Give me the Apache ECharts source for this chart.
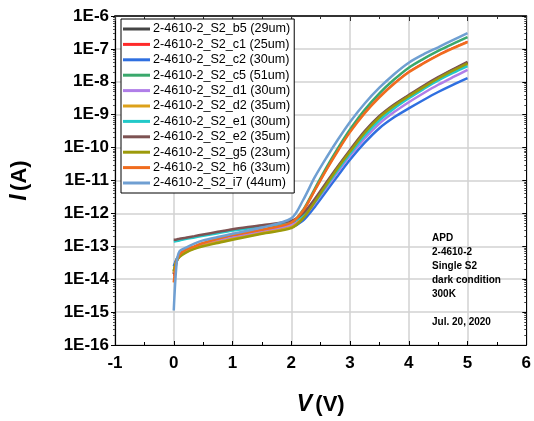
<!DOCTYPE html>
<html>
<head>
<meta charset="utf-8">
<script src="https://cdn.jsdelivr.net/npm/echarts@6/dist/echarts.min.js"></script>
<style>
  html, body { margin: 0; padding: 0; background: #fff; }
  #chart { width: 534px; height: 421px; }
</style>
</head>
<body>
<div id="chart"></div>
<script>
// Bias voltage (V) at which each dark-current sample was taken
const voltage = [0, 0.05, 0.1, 0.2, 0.35, 0.5, 0.75, 1, 1.5, 2, 2.2, 2.4, 2.6, 2.8, 3, 3.25, 3.5, 3.75, 4, 4.25, 4.5, 4.75, 5];

// Dark current (A) per device
const b5 = [1.41e-14, 3.55e-14, 5.01e-14, 7.08e-14, 9.33e-14, 1.12e-13, 1.58e-13, 2.09e-13, 3.16e-13, 5.01e-13, 8.91e-13, 2.4e-12, 7.94e-12, 2.63e-11, 7.94e-11, 2.95e-10, 8.71e-10, 1.95e-9, 3.8e-9, 7.2e-9, 1.32e-8, 2.3e-8, 3.8e-8];
const c1 = [1.26e-14, 3.8e-14, 5.5e-14, 7.59e-14, 9.55e-14, 1.2e-13, 1.58e-13, 2.0e-13, 2.95e-13, 5.01e-13, 1.12e-12, 4.79e-12, 2.09e-11, 8.32e-11, 3.02e-10, 1.17e-9, 3.55e-9, 9.12e-9, 2.04e-8, 3.8e-8, 6.61e-8, 1.08e-7, 1.7e-7];
const c2 = [2.51e-14, 4.17e-14, 5.37e-14, 7.24e-14, 9.33e-14, 1.15e-13, 1.51e-13, 1.91e-13, 2.82e-13, 3.8e-13, 6.03e-13, 1.58e-12, 4.79e-12, 1.45e-11, 4.27e-11, 1.41e-10, 3.89e-10, 8.32e-10, 1.55e-9, 2.8e-9, 4.9e-9, 8.1e-9, 1.29e-8];
const c5 = [1.78e-14, 3.98e-14, 5.25e-14, 7.08e-14, 8.91e-14, 1.12e-13, 1.45e-13, 1.82e-13, 2.63e-13, 5.01e-13, 1.26e-12, 5.62e-12, 2.51e-11, 1.0e-10, 3.55e-10, 1.41e-9, 4.47e-9, 1.17e-8, 2.69e-8, 5.0e-8, 8.71e-8, 1.43e-7, 2.29e-7];
const d1 = [1.58e-14, 3.8e-14, 5.25e-14, 7.08e-14, 9.12e-14, 1.12e-13, 1.48e-13, 1.86e-13, 2.75e-13, 4.47e-13, 7.59e-13, 2.0e-12, 6.17e-12, 1.91e-11, 5.62e-11, 1.91e-10, 5.37e-10, 1.2e-9, 2.4e-9, 4.5e-9, 8.13e-9, 1.38e-8, 2.29e-8];
const d2 = [1.58e-14, 3.72e-14, 5.01e-14, 6.61e-14, 8.71e-14, 1.05e-13, 1.35e-13, 1.66e-13, 2.51e-13, 3.8e-13, 7.41e-13, 2.29e-12, 7.59e-12, 2.45e-11, 7.41e-11, 2.69e-10, 7.94e-10, 1.78e-9, 3.47e-9, 6.5e-9, 1.2e-8, 2.05e-8, 3.39e-8];
const e1 = [1.41e-13, 1.45e-13, 1.51e-13, 1.66e-13, 1.86e-13, 2.09e-13, 2.51e-13, 3.02e-13, 3.98e-13, 5.5e-13, 8.71e-13, 2.19e-12, 6.92e-12, 2.19e-11, 6.46e-11, 2.34e-10, 6.76e-10, 1.55e-9, 3.16e-9, 6.0e-9, 1.1e-8, 1.86e-8, 3.02e-8];
const e2 = [1.58e-13, 1.62e-13, 1.7e-13, 1.82e-13, 2.04e-13, 2.29e-13, 2.75e-13, 3.31e-13, 4.37e-13, 6.03e-13, 1.0e-12, 2.75e-12, 8.91e-12, 2.82e-11, 8.51e-11, 3.16e-10, 9.12e-10, 2.04e-9, 3.98e-9, 7.6e-9, 1.38e-8, 2.4e-8, 4.07e-8];
const g5 = [1.78e-14, 3.55e-14, 4.79e-14, 6.31e-14, 8.32e-14, 1.0e-13, 1.26e-13, 1.58e-13, 2.4e-13, 3.55e-13, 7.08e-13, 2.24e-12, 7.59e-12, 2.51e-11, 7.59e-11, 2.82e-10, 8.32e-10, 1.86e-9, 3.63e-9, 6.9e-9, 1.26e-8, 2.17e-8, 3.63e-8];
const h6 = [7.94e-15, 3.55e-14, 5.62e-14, 7.94e-14, 1.0e-13, 1.26e-13, 1.7e-13, 2.19e-13, 3.16e-13, 5.25e-13, 1.2e-12, 5.01e-12, 2.14e-11, 8.32e-11, 2.95e-10, 1.12e-9, 3.39e-9, 8.71e-9, 1.95e-8, 3.6e-8, 6.31e-8, 1.03e-7, 1.62e-7];
const i7 = [1.12e-15, 3.16e-14, 7.08e-14, 8.91e-14, 1.2e-13, 1.51e-13, 1.91e-13, 2.4e-13, 3.72e-13, 7.08e-13, 2.51e-12, 1.26e-11, 5.01e-11, 1.82e-10, 6.03e-10, 2.19e-9, 6.61e-9, 1.7e-8, 3.8e-8, 6.8e-8, 1.12e-7, 1.86e-7, 3.02e-7];

const deviceNames = [
  '2-4610-2_S2_b5 (29um)', '2-4610-2_S2_c1 (25um)', '2-4610-2_S2_c2 (30um)',
  '2-4610-2_S2_c5 (51um)', '2-4610-2_S2_d1 (30um)', '2-4610-2_S2_d2 (35um)',
  '2-4610-2_S2_e1 (30um)', '2-4610-2_S2_e2 (35um)', '2-4610-2_S2_g5 (23um)',
  '2-4610-2_S2_h6 (33um)', '2-4610-2_S2_i7 (44um)'
];
const deviceCurrents = [b5, c1, c2, c5, d1, d2, e1, e2, g5, h6, i7];
const deviceColors = ['#454545', '#ff2a2a', '#2f6fe0', '#3aa86c', '#b07ee8', '#dca11a',
                      '#22c9c9', '#7d5252', '#9c9a0a', '#f06c1e', '#6f9fd2'];
const deviceWidths = [2.5, 1.5, 2.5, 2.5, 2.5, 2.5, 2.5, 2.5, 2.5, 2.5, 2.5];

const xTickMin = -1, xTickMax = 6;
const yMin = 1e-16, yMax = 1e-6;

const noteLines = ['APD', '2-4610-2', 'Single S2', 'dark condition', '300K', '', 'Jul. 20, 2020'];

const chart = echarts.init(document.getElementById('chart'), null, { renderer: 'canvas' });

const labelFont = { fontFamily: 'Arial, "Liberation Sans", sans-serif', fontWeight: 'bold', fontSize: 17, color: '#000' };
const gridLine = { show: true, lineStyle: { color: '#d2d2d2', width: 1.5 } };

const series = deviceNames.map((name, k) => ({
  name: name,
  type: 'line',
  xAxisIndex: 0,
  yAxisIndex: 0,
  data: voltage.map((v, i) => [v, deviceCurrents[k][i]]),
  showSymbol: false,
  symbol: 'none',
  smooth: 0.3,
  lineStyle: { color: deviceColors[k], width: deviceWidths[k] },
  itemStyle: { color: deviceColors[k] },
  z: 3 + k
}));

chart.setOption({
  animation: false,
  backgroundColor: '#fff',
  grid: { left: 113, right: 5, top: 16, bottom: 71, containLabel: false },
  xAxis: [
    {
      type: 'value', position: 'bottom', min: xTickMin, max: xTickMax, interval: 1,
      axisLine: { onZero: false, lineStyle: { color: '#000', width: 1.2 } },
      axisTick: { inside: true, length: 4, lineStyle: { color: '#000' } },
      minorTick: { show: true, splitNumber: 2, length: 3, lineStyle: { color: '#000' } },
      axisLabel: Object.assign({ margin: 10 }, labelFont),
      splitLine: gridLine,
      name: '{a|V} {b|(V)}',
      nameLocation: 'middle',
      nameGap: 48,
      nameTextStyle: {
        rich: {
          a: { fontFamily: 'Arial, sans-serif', fontWeight: 'bold', fontStyle: 'italic', fontSize: 23, color: '#000' },
          b: { fontFamily: 'Arial, sans-serif', fontWeight: 'bold', fontSize: 22, color: '#000' }
        }
      }
    },
    {
      type: 'value', position: 'top', min: xTickMin, max: xTickMax, interval: 1,
      axisLine: { onZero: false, lineStyle: { color: '#333', width: 2 } },
      axisTick: { inside: true, length: 5, lineStyle: { color: '#333' } },
      minorTick: { show: true, splitNumber: 2, length: 3, lineStyle: { color: '#333' } },
      axisLabel: { show: false },
      splitLine: { show: false }
    }
  ],
  yAxis: [
    {
      type: 'log', logBase: 10, min: yMin, max: yMax, interval: 1,
      axisLine: { onZero: false, lineStyle: { color: '#000', width: 1.2 } },
      axisTick: { inside: false, length: 4, lineStyle: { color: '#000' } },
      minorTick: { show: true, splitNumber: 9, length: 2, lineStyle: { color: '#555' } },
      axisLabel: Object.assign({
        margin: 6,
        formatter: (v) => '1E' + Math.round(Math.log10(v))
      }, labelFont),
      splitLine: gridLine,
      name: '{a|I} {b|(A)}',
      nameLocation: 'middle',
      nameGap: 84,
      nameTextStyle: {
        rich: {
          a: { fontFamily: 'Arial, sans-serif', fontWeight: 'bold', fontStyle: 'italic', fontSize: 23, color: '#000' },
          b: { fontFamily: 'Arial, sans-serif', fontWeight: 'bold', fontSize: 22, color: '#000' }
        }
      }
    },
    {
      type: 'log', logBase: 10, min: yMin, max: yMax, interval: 1, position: 'right',
      axisLine: { show: true, onZero: false, lineStyle: { color: '#000', width: 1 } },
      axisTick: { inside: true, length: 4, lineStyle: { color: '#000' } },
      minorTick: { show: true, splitNumber: 9, length: 2, lineStyle: { color: '#444' } },
      axisLabel: { show: false },
      splitLine: { show: false }
    }
  ],
  legend: {
    orient: 'vertical',
    left: 121,
    top: 19,
    padding: [3, 4, 3, 2],
    itemGap: 1.4,
    itemWidth: 27,
    itemHeight: 3,
    icon: 'rect',
    backgroundColor: '#fff',
    borderColor: '#000',
    borderWidth: 1,
    data: deviceNames,
    textStyle: { fontFamily: 'Arial, "Liberation Sans", sans-serif', fontSize: 12.6, color: '#000', lineHeight: 14, padding: [0, 0, 0, -2] }
  },
  graphic: [
    {
      type: 'text',
      left: 432,
      top: 231,
      z: 50,
      style: {
        text: noteLines.join('\n'),
        fontFamily: 'Arial, "Liberation Sans", sans-serif',
        fontWeight: 'bold',
        fontSize: 10,
        lineHeight: 14,
        fill: '#000'
      }
    }
  ],
  series: series
});
</script>
</body>
</html>
